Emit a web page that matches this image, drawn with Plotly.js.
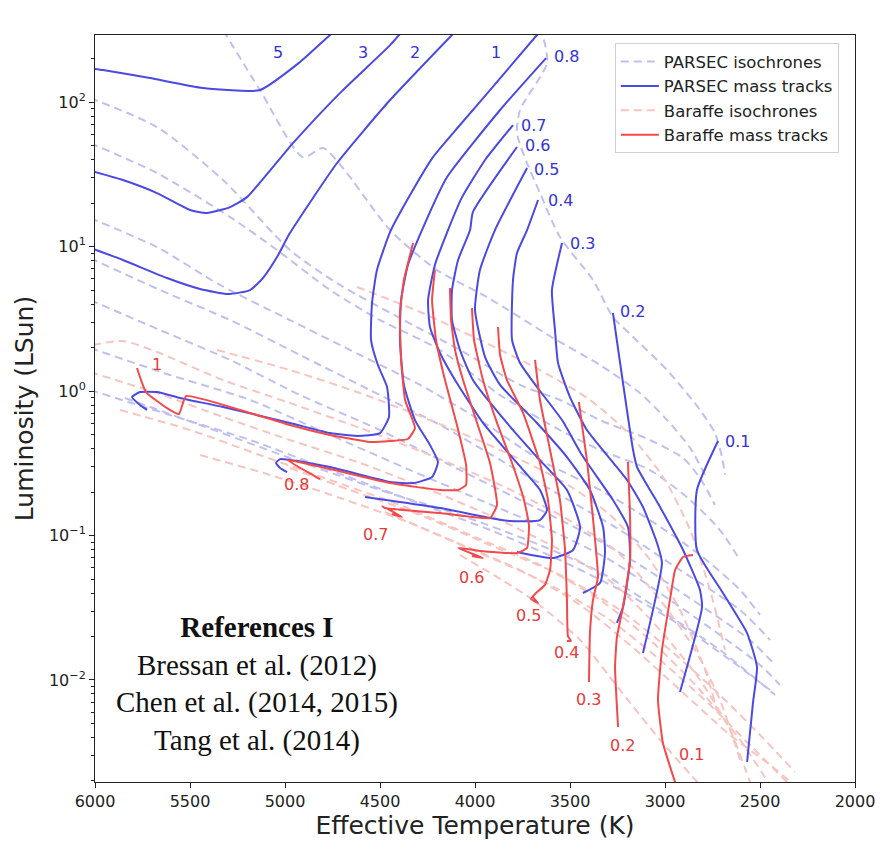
<!DOCTYPE html>
<html>
<head>
<meta charset="utf-8">
<script src="https://cdn.plot.ly/plotly-3.0.1.min.js"></script>
<style>html,body{margin:0;padding:0;background:#fff;}#chart{width:890px;height:849px;}</style>
</head>
<body>
<div id="chart"></div>
<script>
// ---------- DATA (T in K, luminosity as log10(L/Lsun)) ----------
// PARSEC mass tracks
const P5_T = [6037,5958,5711,5432,5132,4921,4763,4711];
const P5_logL = [2.235,2.221,2.166,2.097,2.083,2.277,2.464,2.519];
const P3_T = [6037,5853,5674,5500,5411,5289,5200,4958,4711,4447,4368];
const P3_logL = [1.529,1.460,1.370,1.253,1.232,1.273,1.342,1.716,2.062,2.394,2.512];
const P2_T = [6037,5853,5621,5447,5300,5184,5116,5042,4974,4726,4447,4121,4068];
const P2_logL = [0.996,0.907,0.782,0.706,0.671,0.699,0.782,0.927,1.093,1.578,2.014,2.464,2.533];
const P1_T = [3632,3674,3921,4079,4221,4342,4447,4516,4542,4547,4511,4463,4453,4500,4621,4763,4974,5326,5553,5674,5763,5805,5763,5726];
const P1_logL = [2.533,2.464,2.083,1.841,1.619,1.356,1.100,0.837,0.609,0.353,0.180,0.028,-0.180,-0.291,-0.311,-0.291,-0.221,-0.111,-0.048,-0.007,-0.007,-0.042,-0.097,-0.131];
const P08_T = [3626,3868,4147,4279,4353,4389,4395,4374,4316,4237,4195,4226,4326,4447,4763,4974,5026,5047,5026,4989];
const P08_logL = [2.304,1.945,1.481,1.114,0.872,0.630,0.353,0.042,-0.201,-0.374,-0.491,-0.595,-0.637,-0.630,-0.526,-0.477,-0.471,-0.498,-0.533,-0.561];
const P07_T = [3800,3947,4068,4142,4211,4247,4237,4184,4105,3958,3779,3658,3621,3658,3816,3921,4184,4395,4579];
const P07_logL = [1.841,1.599,1.342,1.114,0.872,0.630,0.443,0.263,0.076,-0.221,-0.498,-0.685,-0.824,-0.893,-0.900,-0.879,-0.810,-0.768,-0.734];
const P06_T = [3779,4011,4026,4089,4121,4121,4079,4011,3832,3674,3516,3447,3484,3589,3779];
const P06_logL = [1.689,1.239,1.114,0.907,0.699,0.491,0.284,0.076,-0.221,-0.457,-0.685,-0.941,-1.100,-1.156,-1.114];
const P05_T = [3726,3895,3974,4000,3947,3868,3674,3516,3395,3326,3316,3342,3432];
const P05_logL = [1.543,1.114,0.837,0.561,0.235,0.042,-0.221,-0.457,-0.685,-0.941,-1.121,-1.329,-1.398];
const P04_T = [3668,3726,3779,3800,3805,3763,3674,3542,3437,3274,3195,3184,3221,3253];
const P04_logL = [1.322,1.114,0.955,0.768,0.353,0.194,0.028,-0.201,-0.443,-0.754,-0.941,-1.170,-1.495,-1.605];
const P03_T = [3542,3595,3579,3563,3500,3411,3200,3116,3042,3016,3116];
const P03_logL = [1.024,0.699,0.422,0.194,-0.042,-0.270,-0.616,-0.803,-1.052,-1.190,-1.813];
const P02_T = [3274,3168,3147,3026,2905,2816,2805,2921];
const P02_logL = [0.540,-0.408,-0.526,-0.803,-1.100,-1.377,-1.495,-2.083];
const P01_T = [2721,2832,2832,2695,2568,2516,2537,2568];
const P01_logL = [-0.346,-0.685,-1.100,-1.398,-1.675,-1.910,-2.159,-2.567];

// Baraffe mass tracks
const B1_T = [4326,4374,4395,4389,4368,4316,4353,4447,4553,4763,4974,5237,5521,5558,5621,5732,5779];
const B1_logL = [1.024,0.768,0.540,0.215,-0.062,-0.256,-0.332,-0.346,-0.353,-0.304,-0.235,-0.131,-0.035,-0.159,-0.118,-0.007,0.159];
const B08_T = [4211,4226,4205,4158,4095,4047,4047,4089,4184,4447,4763,4989,4816];
const B08_logL = [0.837,0.630,0.353,0.076,-0.235,-0.512,-0.650,-0.685,-0.685,-0.637,-0.540,-0.477,-0.609];
const B07_T = [4132,4126,4105,4063,3989,3921,3884,3921,4184,4474,4489,4384,4437];
const B07_logL = [0.713,0.491,0.284,0.076,-0.221,-0.498,-0.789,-0.879,-0.844,-0.810,-0.796,-0.872,-0.851];
const B06_T = [4016,4005,3958,3884,3805,3742,3716,3726,3779,3974,4089,3958,4016];
const B06_logL = [0.574,0.353,0.076,-0.221,-0.498,-0.754,-0.927,-1.086,-1.121,-1.107,-1.086,-1.156,-1.142];
const B05_T = [3879,3868,3832,3747,3658,3616,3595,3605,3632,3684,3705,3668,3695];
const B05_logL = [0.443,0.249,0.076,-0.152,-0.498,-0.754,-1.031,-1.239,-1.342,-1.405,-1.439,-1.467,-1.426];
const B04_T = [3684,3658,3605,3553,3526,3516,3511,3495,3516];
const B04_logL = [0.215,-0.062,-0.408,-0.754,-1.100,-1.446,-1.695,-1.730,-1.730];
const B03_T = [3453,3437,3411,3389,3368,3353,3379,3395,3400];
const B03_logL = [-0.076,-0.235,-0.477,-0.754,-1.031,-1.287,-1.446,-1.675,-2.014];
const B02_T = [3195,3184,3184,3221,3253,3263,3247];
const B02_logL = [-0.491,-0.872,-1.170,-1.495,-1.702,-1.910,-2.325];
const B01_T = [2853,2905,2947,2974,3016,3037,3011,2947,2921];
const B01_logL = [-1.135,-1.149,-1.239,-1.446,-1.792,-2.138,-2.436,-2.706,-2.796];

// PARSEC isochrones
const PI1_T = [3668,3642,3621,3763,3779,3726,3658,3553,3379,3274,3168,2989,2816,2737,2700,2684];
const PI1_logL = [2.512,2.450,2.270,1.945,1.785,1.578,1.370,1.066,0.768,0.512,0.374,0.145,-0.131,-0.291,-0.457,-0.581];
const PI2_T = [5326,5132,4905,4800,4695,4447,4200,3937,3589,3342,3132,2989,2868,2789];
const PI2_logL = [2.498,2.083,1.619,1.682,1.543,1.114,0.837,0.650,0.367,0.180,-0.014,-0.201,-0.394,-0.581];
const PI3_T = [6026,5674,5326,4974,4711,4395,4079,3763,3553,3342,3079,2905,2816,2737];
const PI3_logL = [2.028,1.827,1.460,0.976,0.734,0.505,0.284,0.042,-0.062,-0.201,-0.339,-0.464,-0.602,-0.789];
const PI4_T = [6026,5674,5289,5042,4763,4500,4184,3868,3553,3342,3079,2868,2711,2605];
const PI4_logL = [1.716,1.509,1.204,0.976,0.699,0.491,0.284,-0.028,-0.270,-0.408,-0.547,-0.754,-0.962,-1.170];
const PI5_T = [6026,5674,5342,4974,4658,4289,3974,3658,3342,3079,2816,2605,2500];
const PI5_logL = [1.197,0.996,0.734,0.491,0.284,0.042,-0.201,-0.477,-0.685,-0.893,-1.135,-1.377,-1.550];
const PI6_T = [6026,5658,5289,4921,4553,4184,3868,3553,3237,2921,2605,2447];
const PI6_logL = [0.920,0.699,0.491,0.249,0.007,-0.235,-0.477,-0.720,-0.962,-1.239,-1.516,-1.723];
const PI7_T = [6026,5658,5289,4921,4500,4132,3763,3447,3132,2816,2553,2421];
const PI7_logL = [0.630,0.422,0.215,-0.028,-0.270,-0.512,-0.754,-0.962,-1.204,-1.481,-1.723,-1.896];
const PI8_T = [6026,5605,5184,4763,4342,3974,3605,3289,2974,2711,2500,2395];
const PI8_logL = [0.298,0.111,-0.062,-0.304,-0.547,-0.754,-0.962,-1.170,-1.446,-1.688,-1.896,-2.034];
const PI9_T = [6026,5605,5184,4763,4342,3921,3553,3237,2921,2658,2447];
const PI9_logL = [0.007,-0.166,-0.339,-0.547,-0.754,-0.962,-1.170,-1.377,-1.619,-1.861,-2.069];
const PI10_T = [5842,5447,4974,4500,4079,3658,3342,3026,2711,2421];
const PI10_logL = [-0.048,-0.235,-0.464,-0.685,-0.858,-1.066,-1.253,-1.516,-1.792,-2.104];

// Baraffe isochrones
const BI1_T = [4621,4289,3974,3658,3395,3184,3000,2868,2763,2684];
const BI1_logL = [0.720,0.547,0.353,0.145,-0.062,-0.304,-0.616,-0.962,-1.377,-1.792];
const BI2_T = [5358,4974,4605,4237,3868,3553,3289,3079,2921,2789,2711];
const BI2_logL = [0.284,0.145,-0.014,-0.201,-0.408,-0.616,-0.858,-1.170,-1.516,-1.931,-2.277];
const BI3_T = [6011,5853,5674,5326,4974,4605,4237,3868,3553,3263,3026,2842,2711,2605];
const BI3_logL = [0.318,0.346,0.270,0.076,-0.083,-0.256,-0.443,-0.650,-0.858,-1.100,-1.446,-1.792,-2.138,-2.553];
const BI4_T = [6026,5674,5326,4974,4605,4237,3868,3553,3263,3026,2816,2658,2553];
const BI4_logL = [0.131,-0.014,-0.180,-0.339,-0.498,-0.685,-0.893,-1.100,-1.342,-1.654,-2.000,-2.346,-2.706];
const BI5_T = [5868,5500,5132,4763,4395,4026,3658,3342,3079,2816,2605,2447];
const BI5_logL = [-0.131,-0.270,-0.443,-0.616,-0.789,-0.996,-1.204,-1.446,-1.723,-2.069,-2.415,-2.727];
const BI6_T = [5447,5079,4711,4342,3974,3605,3289,3026,2763,2553,2342];
const BI6_logL = [-0.443,-0.581,-0.740,-0.913,-1.121,-1.342,-1.585,-1.861,-2.173,-2.450,-2.727];
const BI7_T = [4974,4658,4289,3921,3553,3237,2974,2711,2500,2316];
const BI7_logL = [-0.533,-0.685,-0.858,-1.066,-1.273,-1.516,-1.792,-2.104,-2.380,-2.637];
const BI8_T = [4474,4132,3763,3447,3184,2921,2658,2447,2289];
const BI8_logL = [-0.837,-1.031,-1.239,-1.481,-1.758,-2.069,-2.380,-2.588,-2.761];
const BI9_T = [4079,3711,3447,3237,3026,2816];
const BI9_logL = [-1.135,-1.432,-1.723,-2.069,-2.415,-2.727];

// Track labels
const parsecLabels = ['5','3','2','1','0.8','0.7','0.6','0.5','0.4','0.3','0.2','0.1'];
const parsecLabelT = [5037,4589,4316,3889,3595,3768,3747,3700,3626,3511,3247,2695];
const parsecLabelLogL = [2.346,2.346,2.346,2.346,2.318,1.841,1.702,1.536,1.322,1.024,0.547,-0.346];
const baraffeLabels = ['1','0.8','0.7','0.6','0.5','0.4','0.3','0.2','0.1'];
const baraffeLabelT = [5674,4942,4526,4021,3721,3516,3405,3226,2858];
const baraffeLabelLogL = [0.187,-0.650,-0.990,-1.294,-1.557,-1.813,-2.138,-2.450,-2.519];

const xTicks = [6000,5500,5000,4500,4000,3500,3000,2500,2000];
const yTickVals = [0.01,0.1,1,10,100];
const yTickText = ['10<sup>−2</sup>','10<sup>−1</sup>','10<sup>0</sup>','10<sup>1</sup>','10<sup>2</sup>'];

// ---------- STYLE ----------
const C_PTRACK = 'rgb(74,74,226)';
const C_BTRACK = 'rgb(242,74,74)';
const C_PISO = 'rgb(192,192,240)';
const C_BISO = 'rgb(247,196,192)';
const C_PLABEL = 'rgb(52,52,212)';
const C_BLABEL = 'rgb(232,58,58)';
const DASH = '8px,5px';

function toL(arr){ return arr.map(v => Math.pow(10, v)); }

const traces = [];
function addLine(T, logL, color, dash, name, group, rank, show, smooth){
  traces.push({
    type:'scatter', mode:'lines', x:T, y:toL(logL),
    line:{color:color, width:2, dash:dash, shape:'spline', smoothing:smooth},
    name:name, legendgroup:group, legendrank:rank, showlegend:show,
    hoverinfo:'skip'
  });
}

const pIsos = [[PI1_T,PI1_logL],[PI2_T,PI2_logL],[PI3_T,PI3_logL],[PI4_T,PI4_logL],[PI5_T,PI5_logL],
  [PI6_T,PI6_logL],[PI7_T,PI7_logL],[PI8_T,PI8_logL],[PI9_T,PI9_logL],[PI10_T,PI10_logL]];
const bIsos = [[BI1_T,BI1_logL],[BI2_T,BI2_logL],[BI3_T,BI3_logL],[BI4_T,BI4_logL],[BI5_T,BI5_logL],
  [BI6_T,BI6_logL],[BI7_T,BI7_logL],[BI8_T,BI8_logL],[BI9_T,BI9_logL]];
const pTracks = [[P5_T,P5_logL],[P3_T,P3_logL],[P2_T,P2_logL],[P1_T,P1_logL],[P08_T,P08_logL],[P07_T,P07_logL],
  [P06_T,P06_logL],[P05_T,P05_logL],[P04_T,P04_logL],[P03_T,P03_logL],[P02_T,P02_logL],[P01_T,P01_logL]];
const bTracks = [[B1_T,B1_logL],[B08_T,B08_logL],[B07_T,B07_logL],[B06_T,B06_logL],[B05_T,B05_logL],
  [B04_T,B04_logL],[B03_T,B03_logL],[B02_T,B02_logL],[B01_T,B01_logL]];

pIsos.forEach((s,i) => addLine(s[0], s[1], C_PISO, DASH, 'PARSEC isochrones', 'piso', 1, i===0, 0.7));
bIsos.forEach((s,i) => addLine(s[0], s[1], C_BISO, DASH, 'Baraffe isochrones', 'biso', 3, i===0, 0.7));
pTracks.forEach((s,i) => addLine(s[0], s[1], C_PTRACK, 'solid', 'PARSEC mass tracks', 'ptrack', 2, i===0, 0.5));
bTracks.forEach((s,i) => addLine(s[0], s[1], C_BTRACK, 'solid', 'Baraffe mass tracks', 'btrack', 4, i===0, 0.4));

const annotations = [];
parsecLabels.forEach((t,i) => {
  annotations.push({x:parsecLabelT[i], y:parsecLabelLogL[i], xref:'x', yref:'y', text:t, showarrow:false,
    xanchor: i < 4 ? 'center' : 'left', yanchor:'middle',
    font:{family:'DejaVu Sans', size:16, color:C_PLABEL}});
});
baraffeLabels.forEach((t,i) => {
  annotations.push({x:baraffeLabelT[i], y:baraffeLabelLogL[i], xref:'x', yref:'y', text:t, showarrow:false,
    xanchor:'center', yanchor:'middle',
    font:{family:'DejaVu Sans', size:16, color:C_BLABEL}});
});
annotations.push({
  x:0.213, y:0.131, xref:'paper', yref:'paper', showarrow:false, xanchor:'center', yanchor:'middle',
  align:'center',
  text:'<b>References I</b><br>Bressan et al. (2012)<br>Chen et al. (2014, 2015)<br>Tang et al. (2014)',
  font:{family:'Liberation Serif, serif', size:29, color:'#111'}
});

const minorVals = [];
for (let n = -3; n <= 2; n++) for (let k = 2; k <= 9; k++) minorVals.push(k*Math.pow(10,n));

const layout = {
  width:890, height:849,
  margin:{l:95, r:35, t:35, b:67, pad:0},
  paper_bgcolor:'#ffffff', plot_bgcolor:'#ffffff',
  font:{family:'DejaVu Sans', color:'#222'},
  showlegend:true,
  legend:{x:0.684, y:0.989, xanchor:'left', yanchor:'top', bgcolor:'rgba(255,255,255,0.85)',
    bordercolor:'#d0d0d0', borderwidth:1, font:{family:'DejaVu Sans', size:16.5, color:'#222'},
    tracegroupgap:0, itemwidth:38},
  xaxis:{
    range:[6000,2000], tickmode:'array', tickvals:xTicks, ticktext:xTicks.map(String),
    ticks:'outside', ticklen:5, tickwidth:1, tickcolor:'#222',
    showline:true, linecolor:'#222', linewidth:1, mirror:true,
    showgrid:false, zeroline:false,
    tickfont:{family:'DejaVu Sans', size:16, color:'#222'},
    title:{text:'Effective Temperature (K)', font:{family:'DejaVu Sans', size:25, color:'#222'}, standoff:3}
  },
  yaxis:{
    type:'log', range:[-2.706, 2.464],
    tickmode:'array', tickvals:yTickVals, ticktext:yTickText,
    ticks:'outside', ticklen:5, tickwidth:1, tickcolor:'#222',
    minor:{tickmode:'array', tickvals:minorVals, ticks:'outside', ticklen:3, tickcolor:'#222', showgrid:false},
    showline:true, linecolor:'#222', linewidth:1, mirror:true,
    showgrid:false, zeroline:false,
    tickfont:{family:'DejaVu Sans', size:16, color:'#222'},
    title:{text:'Luminosity (LSun)', font:{family:'DejaVu Sans', size:25, color:'#222'}, standoff:8}
  },
  annotations:annotations
};

Plotly.newPlot('chart', traces, layout, {staticPlot:true, displayModeBar:false});
</script>
</body>
</html>
